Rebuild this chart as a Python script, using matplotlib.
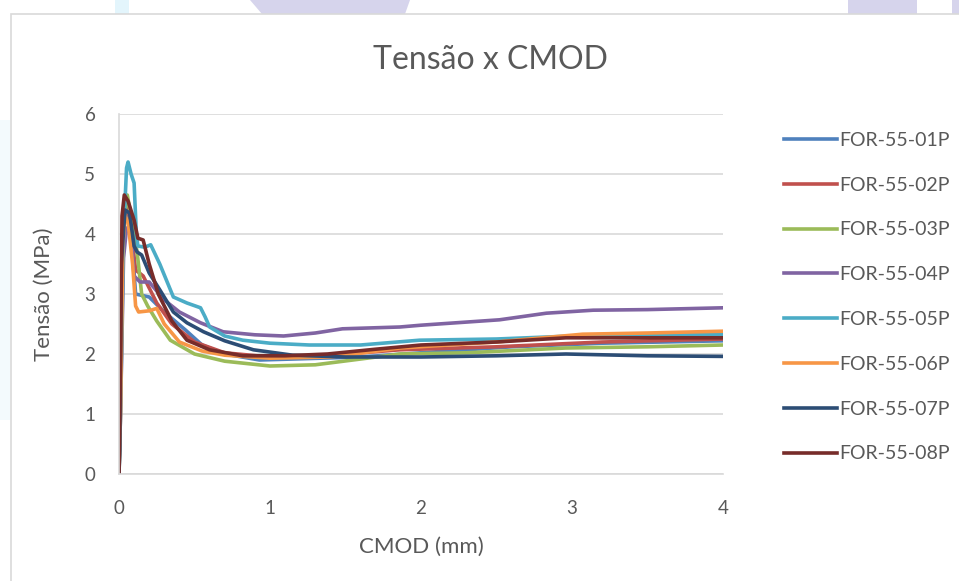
import matplotlib.pyplot as plt
from matplotlib.patches import Rectangle, Polygon

plt.rcParams['font.family'] = ['Lato', 'DejaVu Sans']

labels = ['FOR-55-01P', 'FOR-55-02P', 'FOR-55-03P', 'FOR-55-04P',
          'FOR-55-05P', 'FOR-55-06P', 'FOR-55-07P', 'FOR-55-08P']
colors = ['#4F81BD', '#C0504D', '#9BBB59', '#8064A2',
          '#4BACC6', '#F79646', '#2C4D75', '#772C2A']

# CMOD (mm) / Tensão (MPa)
x01 = [0, 0.005, 0.02, 0.04, 0.06, 0.09, 0.11, 0.2, 0.3, 0.44, 0.55, 0.7, 0.93, 1.2, 1.6, 2.0, 2.6, 3.2, 4.0]
y01 = [0, 1.0, 3.8, 4.4, 4.35, 3.7, 3.0, 2.95, 2.7, 2.4, 2.15, 2.0, 1.9, 1.92, 1.95, 2.02, 2.12, 2.18, 2.22]

x02 = [0, 0.01, 0.025, 0.045, 0.07, 0.11, 0.16, 0.25, 0.35, 0.5, 0.7, 1.0, 1.4, 1.86, 2.5, 3.2, 4.0]
y02 = [0, 1.5, 3.9, 4.45, 4.3, 3.4, 3.3, 2.85, 2.5, 2.2, 2.02, 1.95, 1.98, 2.07, 2.12, 2.2, 2.25]

x03 = [0, 0.01, 0.03, 0.055, 0.08, 0.12, 0.15, 0.19, 0.25, 0.34, 0.5, 0.7, 1.0, 1.3, 1.86, 2.3, 2.96, 3.5, 4.0]
y03 = [0, 1.2, 4.2, 4.65, 4.3, 3.7, 3.0, 2.8, 2.55, 2.23, 2.0, 1.88, 1.8, 1.82, 2.0, 2.02, 2.1, 2.12, 2.15]

x04 = [0, 0.01, 0.03, 0.05, 0.08, 0.1, 0.14, 0.2, 0.3, 0.4, 0.54, 0.69, 0.9, 1.09, 1.3, 1.48, 1.86,
       2.0, 2.52, 2.83, 3.14, 3.5, 4.0]
y04 = [0, 1.0, 3.6, 4.1, 4.0, 3.3, 3.2, 3.2, 2.9, 2.7, 2.52, 2.37, 2.32, 2.3, 2.35, 2.42, 2.45,
       2.48, 2.57, 2.68, 2.73, 2.74, 2.77]

x05 = [0, 0.01, 0.03, 0.05, 0.06, 0.08, 0.1, 0.115, 0.125, 0.17, 0.21, 0.27, 0.36, 0.45, 0.54, 0.57,
       0.6, 0.7, 0.82, 1.0, 1.26, 1.6, 1.99, 2.5, 3.0, 4.0]
y05 = [0, 1.0, 4.0, 5.1, 5.2, 5.0, 4.85, 4.0, 3.8, 3.78, 3.82, 3.5, 2.95, 2.85, 2.77, 2.62,
       2.45, 2.3, 2.23, 2.18, 2.15, 2.15, 2.23, 2.25, 2.3, 2.33]

x06 = [0, 0.01, 0.025, 0.04, 0.06, 0.09, 0.11, 0.13, 0.2, 0.25, 0.3, 0.4, 0.55, 0.7, 1.0, 1.4, 1.86,
       2.5, 3.07, 3.5, 4.0]
y06 = [0, 1.0, 3.8, 4.3, 4.2, 3.5, 2.8, 2.7, 2.72, 2.76, 2.5, 2.2, 2.05, 1.98, 1.93, 1.95, 2.1,
       2.2, 2.33, 2.35, 2.38]

x07 = [0, 0.005, 0.015, 0.04, 0.07, 0.1, 0.12, 0.15, 0.2, 0.27, 0.36, 0.45, 0.56, 0.7, 0.89, 1.15,
       1.5, 2.0, 2.5, 2.96, 3.5, 4.0]
y07 = [0, 0.4, 3.5, 4.4, 4.35, 3.8, 3.7, 3.65, 3.35, 3.07, 2.7, 2.52, 2.37, 2.22, 2.07, 1.98,
       1.95, 1.95, 1.97, 2.0, 1.97, 1.96]

x08 = [0, 0.01, 0.02, 0.035, 0.06, 0.1, 0.125, 0.16, 0.2, 0.26, 0.35, 0.45, 0.6, 0.82, 1.1, 1.38,
       1.7, 2.0, 2.5, 2.96, 3.5, 4.0]
y08 = [0, 2.0, 4.3, 4.65, 4.55, 4.23, 3.93, 3.9, 3.5, 3.0, 2.55, 2.23, 2.07, 1.97, 1.97, 2.0,
       2.08, 2.15, 2.2, 2.27, 2.27, 2.27]

xs = [x01, x02, x03, x04, x05, x06, x07, x08]
ys = [y01, y02, y03, y04, y05, y06, y07, y08]

xticks = [0, 1, 2, 3, 4]
yticks = [0, 1, 2, 3, 4, 5, 6]

fig = plt.figure(figsize=(9.59, 5.81), dpi=100)

# fundo do slide (formas claras atrás do gráfico)
fig.patches.append(Polygon([(250/959, 1), (410/959, 1), (405/959, 1 - 14/581), (262/959, 1 - 14/581)],
                           closed=True, transform=fig.transFigure, facecolor='#D6D4EC', edgecolor='none', zorder=0))
fig.patches.append(Rectangle((848/959, 1 - 14/581), 69/959, 14/581, transform=fig.transFigure,
                             facecolor='#D6D4EC', edgecolor='none', zorder=0))
fig.patches.append(Rectangle((952/959, 1 - 14/581), 7/959, 14/581, transform=fig.transFigure,
                             facecolor='#D6D4EC', edgecolor='none', zorder=0))
fig.patches.append(Rectangle((115/959, 1 - 14/581), 14/959, 14/581, transform=fig.transFigure,
                             facecolor='#E3F5FC', edgecolor='none', zorder=0))
fig.patches.append(Rectangle((0, 1 - 420/581), 10/959, 300/581, transform=fig.transFigure,
                             facecolor='#F3FAFD', edgecolor='none', zorder=0))
# moldura do gráfico
fig.patches.append(Rectangle((11/959, -0.05), 1.0, 1 - 14/581 + 0.05, transform=fig.transFigure,
                             facecolor='white', edgecolor='#D9D9D9', linewidth=1.2, zorder=1))

ax = fig.add_axes([119/959, 107/581, 604/959, 360/581])
ax.set_zorder(2)
ax.patch.set_alpha(0)

for x, y, c, lab in zip(xs, ys, colors, labels):
    ax.plot(x, y, color=c, linewidth=2.6, label=lab, solid_joinstyle='round')

ax.set_xlim(0, 4)
ax.set_ylim(0, 6)
ax.set_xticks(xticks)
ax.set_yticks(yticks)
ax.grid(axis='y', color='#D9D9D9', linewidth=1.2)
ax.set_axisbelow(True)
for s in ['top', 'right']:
    ax.spines[s].set_visible(False)
for s in ['left', 'bottom']:
    ax.spines[s].set_color('#D9D9D9')
    ax.spines[s].set_linewidth(1.2)
ax.tick_params(axis='x', length=0, labelsize=13.5, labelcolor='#595959', pad=19)
ax.tick_params(axis='y', length=0, labelsize=13.5, labelcolor='#595959', pad=17)

ax.set_xlabel('CMOD (mm)', fontsize=16, color='#595959', labelpad=14)
ax.set_ylabel('Tensão (MPa)', fontsize=16, color='#595959', labelpad=22)
fig.text(490/959, 1 - 60/581, 'Tensão x CMOD', fontsize=23, color='#595959', ha='center', va='center')

ax.legend(loc='upper left', bbox_to_anchor=(776/959, 1 - 124/581), bbox_transform=fig.transFigure,
          frameon=False, fontsize=14, handlelength=2.75, handletextpad=0.12, labelspacing=1.43,
          labelcolor='#595959', borderaxespad=0)

plt.savefig('out.png', dpi=100)
